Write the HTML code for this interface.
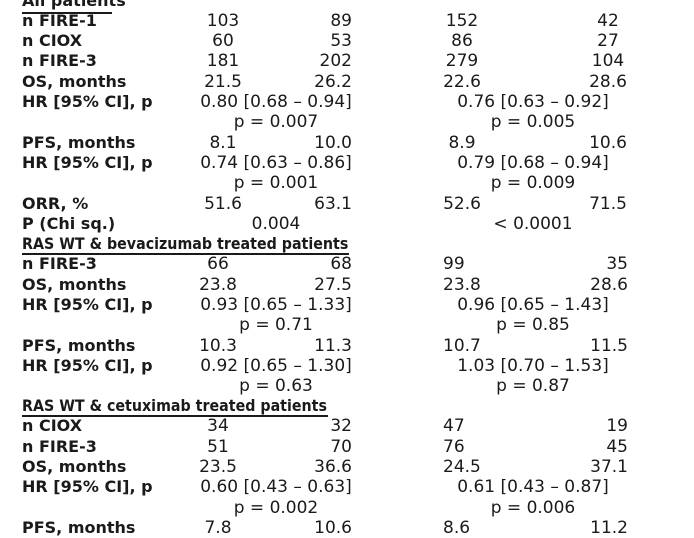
<!DOCTYPE html>
<html><head><meta charset="utf-8"><style>
html,body{margin:0;padding:0;background:#fff;}
body{width:694px;height:532px;position:relative;overflow:hidden;font-family:"DejaVu Sans","Liberation Sans",sans-serif;color:#1a1a1a;}
.r{position:absolute;left:0;width:694px;height:20px;line-height:20px;font-size:17px;white-space:nowrap;}
.r span{position:absolute;top:0;}
.l{left:22px;font-weight:bold;font-size:16px;}
.h{transform:scaleX(0.89);transform-origin:0 50%;}
.c1{left:223px;transform:translateX(-50%);}
.c2{right:342px;}
.c3{left:462px;transform:translateX(-50%);}
.c3l{left:443px;}
.c4{left:608px;transform:translateX(-50%);}
.c4r{right:66px;}
.s1{left:276px;transform:translateX(-50%);}
.s2{left:533px;transform:translateX(-50%);}
.u{position:absolute;left:22px;height:2px;background:#1a1a1a;}
</style></head><body>
<div class="r" style="top:-9px"><span class="l">All patients</span></div>
<div class="u" style="top:12px;width:90px"></div>
<div class="r" style="top:11px"><span class="l">n FIRE-1</span><span class="c1">103</span><span class="c2">89</span><span class="c3">152</span><span class="c4">42</span></div>
<div class="r" style="top:31px"><span class="l">n CIOX</span><span class="c1">60</span><span class="c2">53</span><span class="c3">86</span><span class="c4">27</span></div>
<div class="r" style="top:51px"><span class="l">n FIRE-3</span><span class="c1">181</span><span class="c2">202</span><span class="c3">279</span><span class="c4">104</span></div>
<div class="r" style="top:72px"><span class="l">OS, months</span><span class="c1">21.5</span><span class="c2">26.2</span><span class="c3">22.6</span><span class="c4">28.6</span></div>
<div class="r" style="top:92px"><span class="l">HR [95% CI], p</span><span class="s1">0.80 [0.68 – 0.94]</span><span class="s2">0.76 [0.63 – 0.92]</span></div>
<div class="r" style="top:112px"><span class="s1">p = 0.007</span><span class="s2">p = 0.005</span></div>
<div class="r" style="top:133px"><span class="l">PFS, months</span><span class="c1">8.1</span><span class="c2">10.0</span><span class="c3">8.9</span><span class="c4">10.6</span></div>
<div class="r" style="top:153px"><span class="l">HR [95% CI], p</span><span class="s1">0.74 [0.63 – 0.86]</span><span class="s2">0.79 [0.68 – 0.94]</span></div>
<div class="r" style="top:173px"><span class="s1">p = 0.001</span><span class="s2">p = 0.009</span></div>
<div class="r" style="top:194px"><span class="l">ORR, %</span><span class="c1">51.6</span><span class="c2">63.1</span><span class="c3">52.6</span><span class="c4">71.5</span></div>
<div class="r" style="top:214px"><span class="l">P (Chi sq.)</span><span class="s1">0.004</span><span class="s2">&lt; 0.0001</span></div>
<div class="r" style="top:234px"><span class="l h">RAS WT &amp; bevacizumab treated patients</span></div>
<div class="u" style="top:253px;width:327px"></div>
<div class="r" style="top:254px"><span class="l">n FIRE-3</span><span class="c1" style="left:218px">66</span><span class="c2">68</span><span class="c3l">99</span><span class="c4r">35</span></div>
<div class="r" style="top:275px"><span class="l">OS, months</span><span class="c1" style="left:218px">23.8</span><span class="c2">27.5</span><span class="c3l">23.8</span><span class="c4r">28.6</span></div>
<div class="r" style="top:295px"><span class="l">HR [95% CI], p</span><span class="s1">0.93 [0.65 – 1.33]</span><span class="s2">0.96 [0.65 – 1.43]</span></div>
<div class="r" style="top:315px"><span class="s1">p = 0.71</span><span class="s2">p = 0.85</span></div>
<div class="r" style="top:336px"><span class="l">PFS, months</span><span class="c1" style="left:218px">10.3</span><span class="c2">11.3</span><span class="c3l">10.7</span><span class="c4r">11.5</span></div>
<div class="r" style="top:356px"><span class="l">HR [95% CI], p</span><span class="s1">0.92 [0.65 – 1.30]</span><span class="s2">1.03 [0.70 – 1.53]</span></div>
<div class="r" style="top:376px"><span class="s1">p = 0.63</span><span class="s2">p = 0.87</span></div>
<div class="r" style="top:396px"><span class="l h">RAS WT &amp; cetuximab treated patients</span></div>
<div class="u" style="top:415px;width:306px"></div>
<div class="r" style="top:416px"><span class="l">n CIOX</span><span class="c1" style="left:218px">34</span><span class="c2">32</span><span class="c3l">47</span><span class="c4r">19</span></div>
<div class="r" style="top:437px"><span class="l">n FIRE-3</span><span class="c1" style="left:218px">51</span><span class="c2">70</span><span class="c3l">76</span><span class="c4r">45</span></div>
<div class="r" style="top:457px"><span class="l">OS, months</span><span class="c1" style="left:218px">23.5</span><span class="c2">36.6</span><span class="c3l">24.5</span><span class="c4r">37.1</span></div>
<div class="r" style="top:477px"><span class="l">HR [95% CI], p</span><span class="s1">0.60 [0.43 – 0.63]</span><span class="s2">0.61 [0.43 – 0.87]</span></div>
<div class="r" style="top:498px"><span class="s1">p = 0.002</span><span class="s2">p = 0.006</span></div>
<div class="r" style="top:518px"><span class="l">PFS, months</span><span class="c1" style="left:218px">7.8</span><span class="c2">10.6</span><span class="c3l">8.6</span><span class="c4r">11.2</span></div>
</body></html>
